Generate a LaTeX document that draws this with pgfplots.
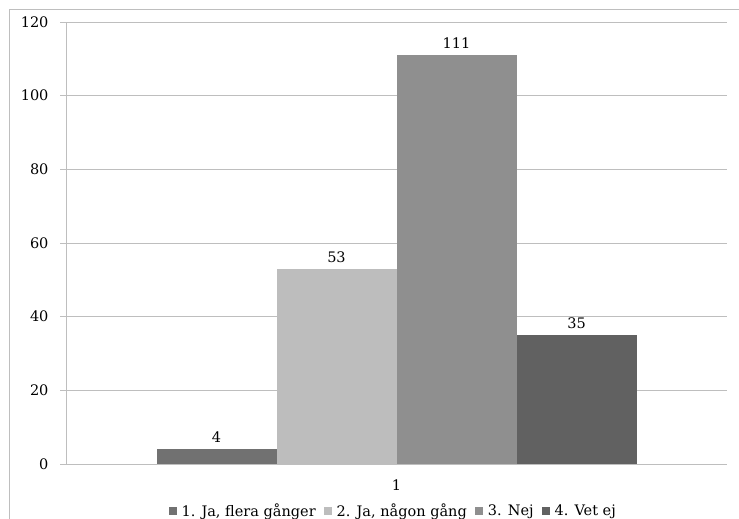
\documentclass[border=0pt]{standalone}
\usepackage{pgfplots}
\pgfplotsset{compat=1.18}
\usepackage{fontspec}
\setmainfont{DejaVu Serif}
\definecolor{cA}{HTML}{717171}
\definecolor{cB}{HTML}{BDBDBD}
\definecolor{cC}{HTML}{8F8F8F}
\definecolor{cD}{HTML}{616161}
\definecolor{gl}{HTML}{BEBEBE}
\begin{document}
\begin{tikzpicture}[x=1pt,y=1pt]
\useasboundingbox (0,0) rectangle (739,519);
\draw[color=gl, line width=1pt] (9,-20) -- (9,509) -- (760,509);
\begin{axis}[
  at={(66pt,55pt)}, anchor=south west,
  scale only axis, width=661pt, height=442pt,
  ymin=0, ymax=120, ytick={0,20,...,120},
  xmin=0.5, xmax=1.5, xtick={1}, xticklabels={1},
  ybar=0pt, bar width=120pt,
  ymajorgrids, grid style={gl, line width=0.8pt},
  axis x line*=bottom, axis y line*=left,
  axis line style={gl, line width=0.8pt},
  tick style={gl, line width=0.8pt},
  tick align=outside, major tick length=6pt,
  major x tick style={draw=none},
  extra x ticks={0.5,1.5}, extra x tick labels={},
  extra x tick style={grid=none, major x tick style={gl, line width=0.8pt}},
  ticklabel style={font=\fontsize{14.5}{16}\selectfont},
  /pgf/number format/assume math mode=true,
  yticklabel style={xshift=-8pt},
  xticklabel style={yshift=-6pt},
  nodes near coords,
  every node near coord/.append style={font=\fontsize{14.5}{16}\selectfont, yshift=3pt},
  legend columns=4,
  legend style={at={(rel axis cs:0.495,-0.1065)}, anchor=center, draw=none,
    font=\fontsize{14.5}{16}\selectfont, inner sep=0pt,
    /tikz/every odd column/.append style={column sep=3pt},
    /tikz/every even column/.append style={column sep=6pt}},
  legend image code/.code={\fill[#1] (0pt,-4pt) rectangle (8pt,4pt);},
]
\addplot[fill=cA, draw=none] coordinates {(1,4)};
\addplot[fill=cB, draw=none] coordinates {(1,53)};
\addplot[fill=cC, draw=none] coordinates {(1,111)};
\addplot[fill=cD, draw=none] coordinates {(1,35)};
\legend{{1. Ja, flera gånger},{2. Ja, någon gång},{3. Nej},{4. Vet ej}}
\end{axis}
\end{tikzpicture}
\end{document}
